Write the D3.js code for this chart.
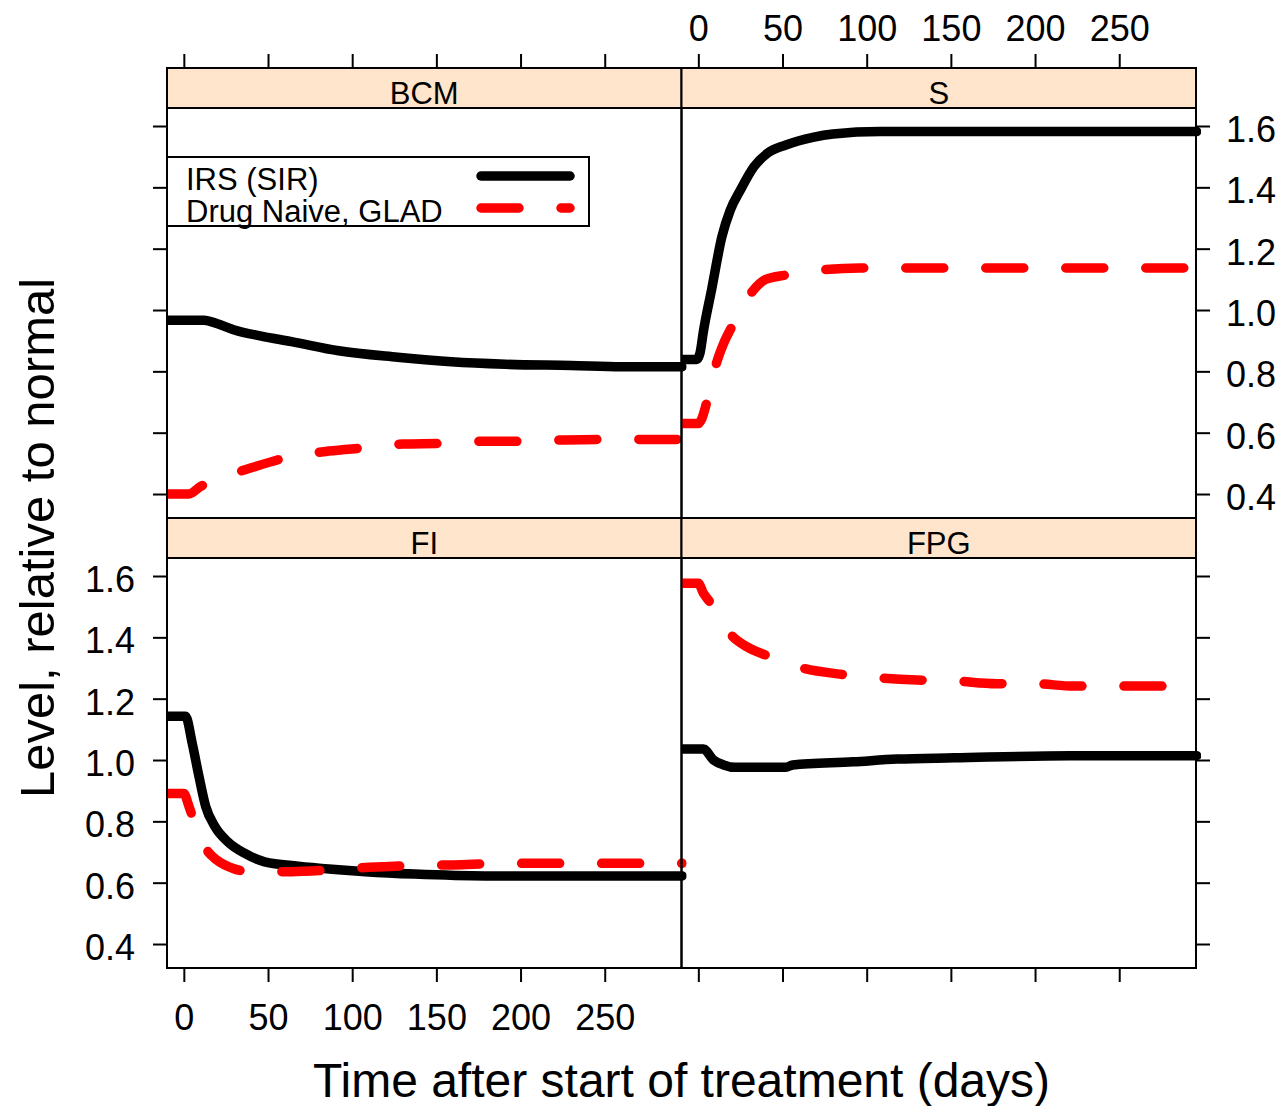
<!DOCTYPE html>
<html>
<head>
<meta charset="utf-8">
<script src="https://cdn.jsdelivr.net/npm/d3@7"></script>
<style>
  body { margin: 0; background: #fff; }
  svg { display: block; font-family: "Liberation Sans", Arial, sans-serif; }
</style>
</head>
<body>
<script>
// panel names, in lattice order
const panelNames = ['BCM', 'S', 'FI', 'FPG'];
const seriesNames = ['IRS (SIR)', 'Drug Naive, GLAD'];

const dayTicks = [0, 50, 100, 150, 200, 250];
const levelTicks = [0.4, 0.6, 0.8, 1.0, 1.2, 1.4, 1.6];

// [day, level relative to normal]
const bcmIRS = [[-10, 0.967], [12, 0.967], [20, 0.955], [30, 0.935], [46, 0.915], [64, 0.897],
  [92, 0.867], [127, 0.846], [159, 0.831], [191, 0.823], [230, 0.819], [260, 0.815], [296, 0.815]];
const bcmGLAD = [[-10, 0.40], [3, 0.40], [10, 0.425], [19, 0.446], [41, 0.487], [62, 0.520],
  [86, 0.540], [108, 0.551], [130, 0.563], [154, 0.565], [177, 0.572], [200, 0.572],
  [224, 0.576], [247, 0.578], [296, 0.578]];

const sIRS = [[-10, 0.839], [-1, 0.839], [1, 0.86], [3, 0.93], [8, 1.07], [14, 1.239], [19, 1.326],
  [25, 1.391], [33, 1.467], [41, 1.511], [52, 1.538], [68, 1.563], [80, 1.574], [108, 1.582], [296, 1.582]];
const sGLAD = [[-10, 0.630], [0, 0.630], [2, 0.645], [5, 0.70], [8, 0.77], [11, 0.831], [15, 0.891],
  [21, 0.957], [26, 1.01], [32, 1.060], [40, 1.100], [52, 1.114], [72, 1.130], [96, 1.137], [296, 1.137]];

const fiIRS = [[-10, 1.143], [1, 1.143], [5, 1.054], [9, 0.946], [13, 0.848], [18.5, 0.783],
  [26, 0.734], [36, 0.696], [48, 0.668], [68, 0.654], [88, 0.644], [108, 0.636], [137, 0.628],
  [179, 0.622], [296, 0.622]];
const fiGLAD = [[-10, 0.891], [0, 0.891], [3, 0.85], [7, 0.783], [13, 0.712], [19.5, 0.674],
  [30, 0.645], [39, 0.636], [64, 0.636], [86, 0.641], [110, 0.650], [131, 0.655], [160, 0.658],
  [190, 0.663], [296, 0.663]];

const fpgIRS = [[-10, 1.036], [3, 1.036], [9, 1.000], [15, 0.984], [22, 0.976], [52, 0.976],
  [56, 0.984], [92, 0.994], [118, 1.003], [152, 1.007], [221, 1.014], [296, 1.014]];
const fpgGLAD = [[-10, 1.576], [0, 1.576], [3, 1.544], [7, 1.514], [10, 1.49], [14, 1.45],
  [20, 1.405], [29, 1.369], [41, 1.340], [61, 1.301], [84, 1.280], [107, 1.268], [130, 1.261],
  [152, 1.258], [177, 1.249], [199, 1.249], [223, 1.241], [296, 1.241]];

const seriesByPanel = [[bcmIRS, bcmGLAD], [sIRS, sGLAD], [fiIRS, fiGLAD], [fpgIRS, fpgGLAD]];

const width = 1284;
const height = 1106;
const colX = [167, 681.5];
const rowY = [108, 558];
const panelW = 514.5;
const panelH = 410;
const stripH = 40;
const tickLen = 14;
const font = 36;

const x = d3.scaleLinear().domain([-10, 295.6]).range([0, panelW]);
const y = d3.scaleLinear().domain([0.3218, 1.6587]).range([panelH, 0]);

const line = d3.line()
  .x(d => x(d[0]))
  .y(d => y(d[1]))
  .curve(d3.curveMonotoneX);

const styles = [
  { color: '#000', dash: null },
  { color: '#ff0000', dash: '38,42' }
];

const svg = d3.select('body')
  .append('svg')
  .attr('width', width)
  .attr('height', height);

svg.append('defs').append('clipPath')
  .attr('id', 'clip')
  .append('rect')
  .attr('x', 0)
  .attr('y', -20)
  .attr('width', panelW + 5)
  .attr('height', panelH + 40);

function styleAxis (g, showLabels) {
  g.select('.domain').remove();
  g.selectAll('.tick line').attr('stroke', '#000').attr('stroke-width', 2);
  g.selectAll('.tick text')
    .attr('fill', '#000')
    .style('font-size', font + 'px')
    .style('display', showLabels ? null : 'none');
}

panelNames.forEach((name, i) => {
  const col = i % 2;
  const row = Math.floor(i / 2);
  const px = colX[col];
  const py = rowY[row];

  const g = svg.append('g').attr('transform', `translate(${px},${py})`);

  // strip
  const strip = svg.append('g').attr('transform', `translate(${px},${py - stripH})`);
  strip.append('rect')
    .attr('width', panelW)
    .attr('height', stripH)
    .attr('fill', '#ffe5cc')
    .attr('stroke', '#000')
    .attr('stroke-width', 2);
  strip.append('text')
    .attr('x', panelW / 2)
    .attr('y', stripH - 4)
    .attr('text-anchor', 'middle')
    .style('font-size', '31px')
    .text(name);

  // curves
  const lines = g.append('g').attr('clip-path', 'url(#clip)');
  seriesByPanel[i].forEach((data, s) => {
    lines.append('path')
      .datum(data)
      .attr('d', line)
      .attr('fill', 'none')
      .attr('stroke', styles[s].color)
      .attr('stroke-width', 9.5)
      .attr('stroke-linecap', 'round')
      .attr('stroke-linejoin', 'round')
      .attr('stroke-dasharray', styles[s].dash);
  });

  g.append('rect')
    .attr('width', panelW)
    .attr('height', panelH)
    .attr('fill', 'none')
    .attr('stroke', '#000')
    .attr('stroke-width', 2);

  // axes, alternating like lattice
  if (row === 0) {
    svg.append('g')
      .attr('transform', `translate(${px},${py - stripH})`)
      .call(d3.axisTop(x).tickValues(dayTicks).tickSize(tickLen).tickPadding(13))
      .call(a => styleAxis(a, col === 1));
  } else {
    svg.append('g')
      .attr('transform', `translate(${px},${py + panelH})`)
      .call(d3.axisBottom(x).tickValues(dayTicks).tickSize(tickLen).tickPadding(22))
      .call(a => styleAxis(a, col === 0));
  }
  if (col === 0) {
    svg.append('g')
      .attr('transform', `translate(${px},${py})`)
      .call(d3.axisLeft(y).tickValues(levelTicks).tickFormat(d3.format('.1f')).tickSize(tickLen).tickPadding(18))
      .call(a => styleAxis(a, row === 1))
      .selectAll('.tick text').attr('dy', '0.43em');
  } else {
    svg.append('g')
      .attr('transform', `translate(${px + panelW},${py})`)
      .call(d3.axisRight(y).tickValues(levelTicks).tickFormat(d3.format('.1f')).tickSize(tickLen).tickPadding(16))
      .call(a => styleAxis(a, row === 0))
      .selectAll('.tick text').attr('dy', '0.43em');
  }
});

// legend (inside the BCM panel)
const legend = svg.append('g').attr('transform', 'translate(167,157)');
legend.append('rect')
  .attr('width', 422)
  .attr('height', 69)
  .attr('fill', '#fff')
  .attr('stroke', '#000')
  .attr('stroke-width', 2);
seriesNames.forEach((label, s) => {
  legend.append('text')
    .attr('x', 19)
    .attr('y', 33 + s * 32)
    .style('font-size', '31px')
    .text(label);
  legend.append('line')
    .attr('x1', 314)
    .attr('x2', 403)
    .attr('y1', 19 + s * 32)
    .attr('y2', 19 + s * 32)
    .attr('stroke', styles[s].color)
    .attr('stroke-width', 9.5)
    .attr('stroke-linecap', 'round')
    .attr('stroke-dasharray', styles[s].dash);
});

// axis titles
svg.append('text')
  .attr('x', (colX[0] + colX[1] + panelW) / 2)
  .attr('y', 1097)
  .attr('text-anchor', 'middle')
  .style('font-size', '48px')
  .text('Time after start of treatment (days)');

svg.append('text')
  .attr('transform', 'translate(54,538) rotate(-90)')
  .attr('text-anchor', 'middle')
  .style('font-size', '49px')
  .text('Level, relative to normal');
</script>
</body>
</html>
